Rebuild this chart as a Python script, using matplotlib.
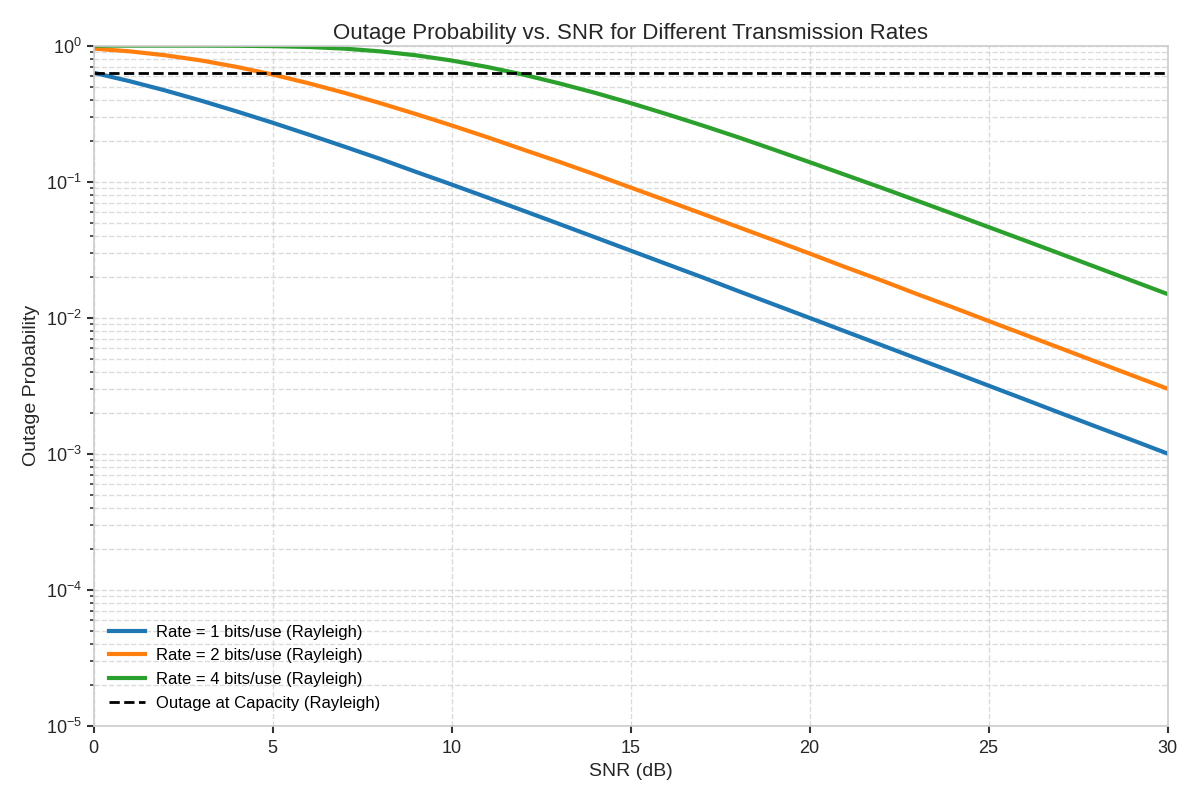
import numpy as np
import matplotlib.pyplot as plt

plt.rcParams['font.family'] = ['Liberation Sans', 'DejaVu Sans']

# values, one per dB
snr_db = list(range(0, 31))
rate1 = [0.632, 0.548, 0.468, 0.394, 0.328, 0.271, 0.222, 0.181, 0.147, 0.118,
         0.0952, 0.0764, 0.0612, 0.0489, 0.0390, 0.0311, 0.0248, 0.0198, 0.0157, 0.0125,
         0.00995, 0.00791, 0.00629, 0.00500, 0.00398, 0.00316, 0.00251, 0.00199, 0.00158,
         0.00126, 0.00100]
rate2 = [0.950, 0.908, 0.849, 0.778, 0.697, 0.613, 0.529, 0.450, 0.378, 0.314,
         0.259, 0.212, 0.172, 0.140, 0.113, 0.0905, 0.0726, 0.0581, 0.0464, 0.0371,
         0.0296, 0.0235, 0.0188, 0.0149, 0.0119, 0.00944, 0.00751, 0.00597, 0.00474,
         0.00377, 0.00300]
rate4 = [1.000, 1.000, 0.99992, 0.9995, 0.9975, 0.991, 0.977, 0.950, 0.907, 0.849,
         0.777, 0.696, 0.612, 0.528, 0.450, 0.378, 0.314, 0.259, 0.212, 0.172,
         0.139, 0.112, 0.0903, 0.0724, 0.0580, 0.0463, 0.0370, 0.0295, 0.0235,
         0.0187, 0.0149]
capacity_level = 0.632

fig, ax = plt.subplots(figsize=(12, 8), dpi=100)
fig.subplots_adjust(left=0.078, right=0.973, top=0.943, bottom=0.093)

ax.plot(snr_db, rate1, color='#1f77b4', lw=3, label='Rate = 1 bits/use (Rayleigh)')
ax.plot(snr_db, rate2, color='#ff7f0e', lw=3, label='Rate = 2 bits/use (Rayleigh)')
ax.plot(snr_db, rate4, color='#2ca02c', lw=3, label='Rate = 4 bits/use (Rayleigh)')
ax.plot([snr_db[0], snr_db[-1]], [capacity_level, capacity_level], 'k--', lw=2,
        label='Outage at Capacity (Rayleigh)')

ax.set_yscale('log')
ax.set_xlim(0, 30)
ax.set_ylim(1e-5, 1)
ax.set_title('Outage Probability vs. SNR for Different Transmission Rates', fontsize=16,
             color='#262626', pad=4.5)
ax.set_xlabel('SNR (dB)', fontsize=14, color='#262626', labelpad=4)
ax.set_ylabel('Outage Probability', fontsize=14, color='#262626')

ax.grid(True, which='both', ls='--', color='#cccccc', alpha=0.7, lw=1)
for s in ax.spines.values():
    s.set_color('#cccccc')
    s.set_linewidth(1.2)
ax.tick_params(which='major', labelsize=13, length=5, width=1.5, color='#333333', labelcolor='#262626')
ax.tick_params(axis='x', pad=5.5)
ax.tick_params(which='minor', length=3, width=1.2, color='#333333')

ax.legend(loc='lower left', fontsize=12, frameon=False, handlelength=2.2,
          borderaxespad=0.5, handletextpad=0.65, labelspacing=0.52)

plt.savefig('out.png')
